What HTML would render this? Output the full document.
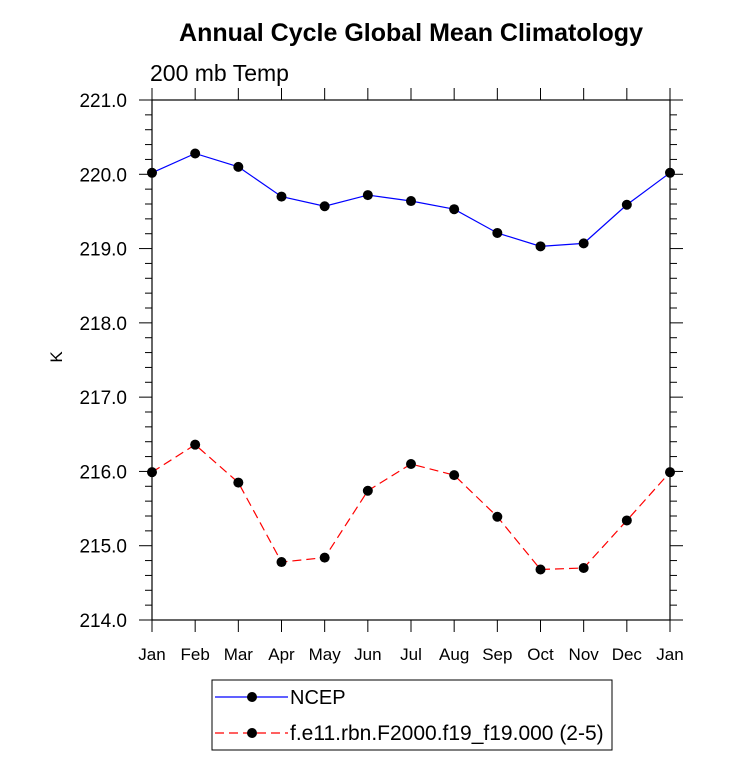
<!DOCTYPE html>
<html><head><meta charset="utf-8"><style>body{margin:0;background:#fff}svg{display:block;font-family:"Liberation Sans",sans-serif}</style></head>
<body>
<svg id="c" width="733" height="770">
<text x="411" y="41" text-anchor="middle" font-size="25" font-weight="bold">Annual Cycle Global Mean Climatology</text>
<text x="150" y="81" font-size="23">200 mb Temp</text>
<text x="62" y="357" font-size="17" text-anchor="middle" transform="rotate(-90 62 357)">K</text>
<rect x="152" y="100" width="518" height="520" fill="none" stroke="#000" stroke-width="1.2"/>
<g id="ax"></g><g id="marks"></g>
<g>
<rect x="212" y="680" width="400" height="70" fill="none" stroke="#000" stroke-width="1"/>
<line x1="215" y1="697" x2="288" y2="697" stroke="#00f" stroke-width="1.2"/>
<circle cx="252" cy="697" r="5" fill="#000"/>
<text x="290" y="704" font-size="20">NCEP</text>
<line x1="215" y1="733" x2="288" y2="733" stroke="#f00" stroke-width="1.2" stroke-dasharray="9,5"/>
<circle cx="252" cy="733" r="5" fill="#000"/>
<text x="290" y="740" font-size="21">f.e11.rbn.F2000.f19_f19.000 (2-5)</text>
</g>
</svg>
<script>
const months=["Jan","Feb","Mar","Apr","May","Jun","Jul","Aug","Sep","Oct","Nov","Dec","Jan"];
const yTicks=[214,215,216,217,218,219,220,221];
const ncep=[220.02,220.28,220.10,219.70,219.57,219.72,219.64,219.53,219.21,219.03,219.07,219.59,220.02];
const model=[215.99,216.36,215.85,214.78,214.84,215.74,216.10,215.95,215.39,214.68,214.70,215.34,215.99];
const NS="http://www.w3.org/2000/svg";
const X=i=>152+i*518/12, Y=v=>100+(221-v)*520/7;
function mk(t,a,p){const e=document.createElementNS(NS,t);for(const k in a)e.setAttribute(k,a[k]);p.appendChild(e);return e;}
const ax=document.getElementById('ax'),mg=document.getElementById('marks');
for(let v=214;v<=221.001;v+=0.2){const y=Y(v);const maj=Math.abs(v-Math.round(v))<0.01;const l=maj?13:7;
mk('line',{x1:152-l,y1:y,x2:152,y2:y,stroke:'#000'},ax);mk('line',{x1:670,y1:y,x2:670+l,y2:y,stroke:'#000'},ax);}
yTicks.forEach(v=>{const t=mk('text',{x:127,y:Y(v)+7,'text-anchor':'end','font-size':19},ax);t.textContent=v.toFixed(1);

});
months.forEach((m,i)=>{const x=X(i);mk('line',{x1:x,y1:88,x2:x,y2:100,stroke:'#000'},ax);mk('line',{x1:x,y1:620,x2:x,y2:632,stroke:'#000'},ax);
const t=mk('text',{x:x,y:660,'text-anchor':'middle','font-size':17},ax);t.textContent=m;

});
function series(d,c,dash,name){const p=mk('polyline',{points:d.map((v,i)=>X(i)+','+Y(v)).join(' '),fill:'none',stroke:c,'stroke-width':1.2,'stroke-dasharray':dash},mg);


d.forEach((v,i)=>{const c2=mk('circle',{cx:X(i),cy:Y(v),r:5,fill:'#000'},mg);

});}
series(ncep,'#00f','none','ncep');series(model,'#f00','9,5','model');
</script>
</body></html>
